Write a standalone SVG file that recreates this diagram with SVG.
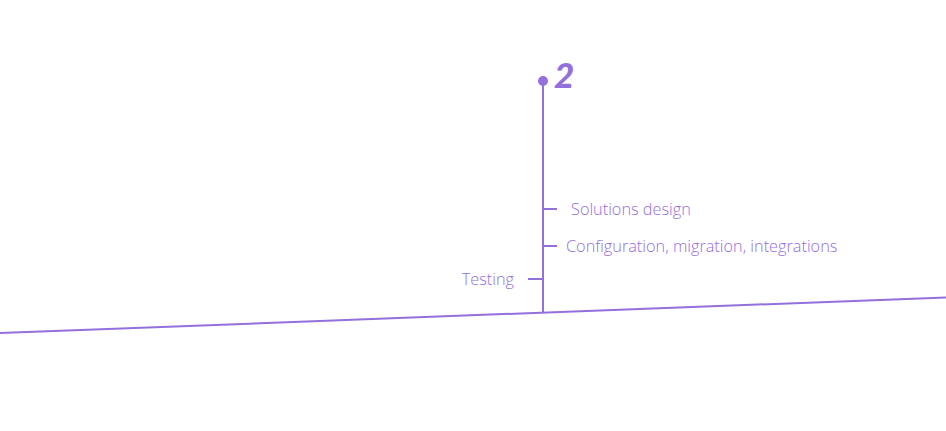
<svg xmlns="http://www.w3.org/2000/svg" width="946" height="431" viewBox="0 0 946 431">
<style>
.ln{stroke:#9370DB;stroke-width:2;fill:none}
.lb{font-family:"Open Sans",Lato,sans-serif;font-size:16.3px;font-weight:300;fill:#9370DB}
</style>
<rect width="946" height="431" fill="#fff"/>
<g id="connectors">
<line class="ln" x1="0" y1="333" x2="946" y2="297.5"/>
<line class="ln" x1="543" y1="81" x2="543" y2="313"/>
<line class="ln" x1="543" y1="209" x2="557" y2="209"/>
<line class="ln" x1="543" y1="246" x2="557" y2="246"/>
<line class="ln" x1="528" y1="279" x2="543" y2="279"/>
</g>
<g id="milestone-2">
<circle cx="543" cy="81" r="5" fill="#9370DB"/>
<text x="554" y="88" font-family="Lato,'Noto Sans',sans-serif" font-size="35" font-weight="900" font-style="italic" fill="#9370DB">2</text>
</g>
<g id="solutions-design"><text class="lb" x="571" y="215">Solutions design</text></g>
<g id="configuration"><text class="lb" x="566" y="252">Configuration, migration, integrations</text></g>
<g id="testing"><text class="lb" x="514" y="285" text-anchor="end">Testing</text></g>
</svg>
